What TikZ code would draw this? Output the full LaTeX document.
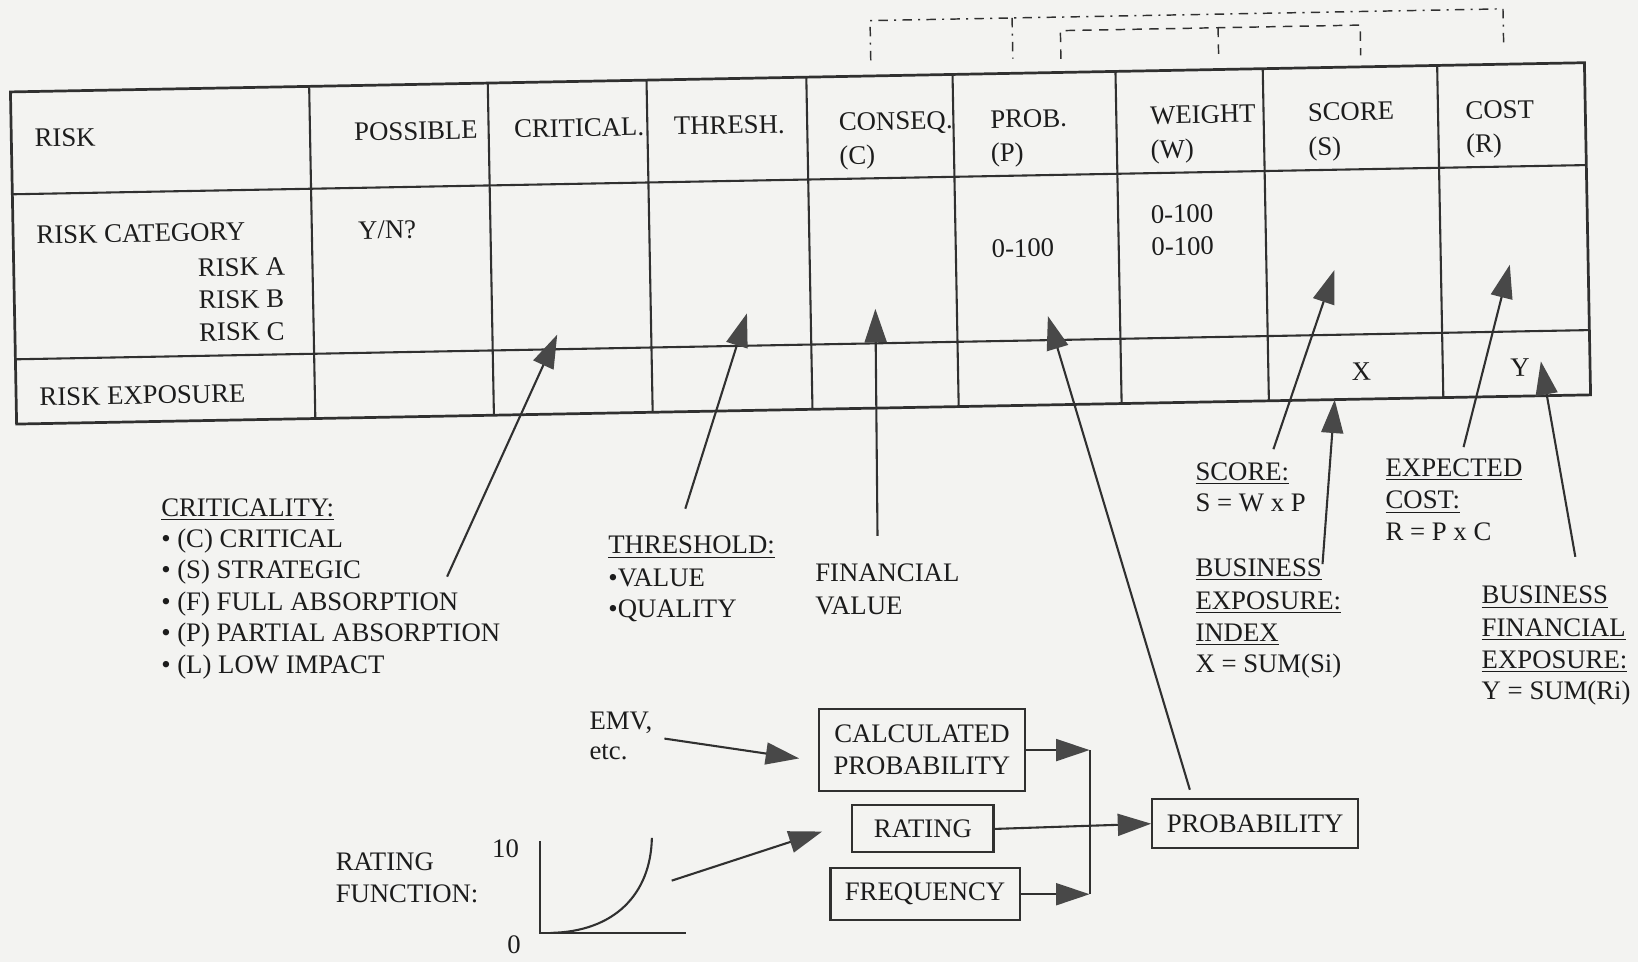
\documentclass[tikz,border=0pt]{standalone}
\usepackage{fontspec}
\setmainfont{Liberation Serif}
\usetikzlibrary{arrows.meta,calc}
\definecolor{paper}{RGB}{243,243,241}
\definecolor{ink}{RGB}{28,28,28}
\definecolor{rule}{RGB}{48,48,48}
\definecolor{head}{RGB}{72,72,72}
\begin{document}
\begin{tikzpicture}[x=0.5pt,y=-0.5pt,
  lbl/.style={anchor=base west, inner sep=0pt, text=ink, font=\fontsize{12.8}{15.3}\selectfont},
  ctr/.style={lbl, anchor=base},
  grid/.style={draw=rule, line width=1pt},
  frame/.style={draw=rule, line width=1.3pt},
  pointer/.style={draw=rule, line width=1pt,
    -{Triangle[length=16pt,width=10.5pt,fill=head,color=head]}},
  boxed/.style={draw=rule, line width=1pt, inner sep=0pt, text=ink, align=center,
    font=\fontsize{12.8}{15.3}\selectfont},
  shortdash/.style={draw=rule, line width=0.7pt, dash pattern=on 4.5pt off 3.5pt},
  dashdot/.style={draw=rule, line width=0.7pt, dash pattern=on 4.5pt off 3pt on 1pt off 3pt}]

\fill[paper] (0,0) rectangle (1568,921);
\useasboundingbox (0,0) rectangle (1568,921);

% ---------------- the risk table (slightly tilted sheet) ----------------
\begin{scope}[shift={(10,88)}, rotate=1.064, transform shape]
  \draw[frame] (0,0) rectangle (1507,318);
  \draw[grid] (0,98) -- (1507,98) (0,256) -- (1507,256);
  \foreach \c in {286,457,609,762,902,1058,1199,1366}
    \draw[grid] (\c,0) -- (\c,318);

  % header row
  \node[lbl] (hRisk) at (22,53) {RISK};
  \node[lbl] (hPoss) at (328,53) {POSSIBLE};
  \node[lbl] (hCrit) at (481,53) {CRITICAL.};
  \node[lbl] (hThr)  at (634,53) {THRESH.};
  \node[lbl] (hConA) at (792,52) {CONSEQ.};
  \node[lbl] (hConB) at (792,84) {(C)};
  \node[lbl] (hProA) at (937,52) {PROB.};
  \node[lbl] (hProB) at (937,84) {(P)};
  \node[lbl] (hWeiA) at (1090,51) {WEIGHT};
  \node[lbl] (hWeiB) at (1090,84) {(W)};
  \node[lbl] (hScoA) at (1241,51) {SCORE};
  \node[lbl] (hScoB) at (1241,84) {(S)};
  \node[lbl] (hCosA) at (1392,52) {COST};
  \node[lbl] (hCosB) at (1392,84) {(R)};

  % body row
  \node[lbl] (rCat) at (22,146) {RISK CATEGORY};
  \node[lbl] (rA) at (176,180) {RISK A};
  \node[lbl] (rB) at (176,211) {RISK B};
  \node[lbl] (rC) at (176,242) {RISK C};
  \node[lbl] (yn) at (330,147) {Y/N?};
  \node[lbl] (pRange) at (936,176) {0-100};
  \node[lbl] (wRangeA) at (1089,146) {0-100};
  \node[lbl] (wRangeB) at (1089,177) {0-100};

  % exposure row
  \node[lbl] (rExp) at (22,301) {RISK EXPOSURE};
  \node[ctr] (xVal) at (1288,300) {X};
  \node[ctr] (yVal) at (1440,299) {Y};

  % arrow targets inside the table
  \coordinate (tCrit)  at (519,242);
  \coordinate (tThr)   at (701,225);
  \coordinate (tCon)   at (824,223);
  \coordinate (tProb)  at (989,233);
  \coordinate (tScore) at (1264,194);
  \coordinate (tX)     at (1262,318);
  \coordinate (tCost)  at (1432,192);
  \coordinate (tY)     at (1460,285);

  % links between columns: R = P x C (dash-dot), S = W x P (dashed)
  \draw[dashdot] (824,-15) -- (824,-53) -- (1430,-53) -- (1430,-15);
  \draw[dashdot] (960,-53) -- (960,-14);
  \draw[shortdash] (1006,-13) -- (1006,-40) -- (1293,-40) -- (1293,-11);
  \draw[shortdash] (1157,-40) -- (1157,-12);
\end{scope}

% ---------------- explanations below the table ----------------
\node[lbl] (critT) at (154,494) {\underline{CRITICALITY:}};
\node[lbl] (critC) at (154,524) {• (C) CRITICAL};
\node[lbl] (critS) at (154,554) {• (S) STRATEGIC};
\node[lbl] (critF) at (154,584) {• (F) FULL ABSORPTION};
\node[lbl] (critP) at (154,614) {• (P) PARTIAL ABSORPTION};
\node[lbl] (critL) at (154,645) {• (L) LOW IMPACT};

\node[lbl] (thrT) at (582,530) {\underline{THRESHOLD:}};
\node[lbl] (thrV) at (582,561) {•VALUE};
\node[lbl] (thrQ) at (582,591) {•QUALITY};

\node[lbl] (finA) at (780,557) {FINANCIAL};
\node[lbl] (finB) at (780,588) {VALUE};

\node[lbl] (scoT) at (1144,460) {\underline{SCORE:}};
\node[lbl] (scoF) at (1144,490) {S = W x P};

\node[lbl] (idxA) at (1144,552) {\underline{BUSINESS}};
\node[lbl] (idxB) at (1144,583) {\underline{EXPOSURE:}};
\node[lbl] (idxC) at (1144,614) {\underline{INDEX}};
\node[lbl] (idxF) at (1144,644) {X = SUM(Si)};

\node[lbl] (expA) at (1326,456) {\underline{EXPECTED}};
\node[lbl] (expB) at (1326,487) {\underline{COST:}};
\node[lbl] (expF) at (1326,517) {R = P x C};

\node[lbl] (bfeA) at (1418,578) {\underline{BUSINESS}};
\node[lbl] (bfeB) at (1418,609) {\underline{FINANCIAL}};
\node[lbl] (bfeC) at (1418,640) {\underline{EXPOSURE:}};
\node[lbl] (bfeF) at (1418,670) {Y = SUM(Ri)};

% ---------------- probability sources ----------------
\node[lbl] (emvA) at (564,698) {EMV,};
\node[lbl] (emvB) at (564,727) {etc.};
\node[boxed, minimum width=98.5pt, minimum height=39pt] (calc) at (882.5,718) {CALCULATED\\PROBABILITY};
\node[boxed, minimum width=67.5pt, minimum height=22.5pt] (rating) at (883.5,793.5) {RATING};
\node[boxed, minimum width=90.5pt, minimum height=25pt] (freq) at (885.5,856) {FREQUENCY};
\node[boxed, minimum width=98.5pt, minimum height=23.5pt] (prob) at (1201.5,788.5) {PROBABILITY};

\node[lbl] (rfA) at (321,833) {RATING};
\node[lbl] (rfB) at (321,864) {FUNCTION:};
\node[ctr] (ten) at (484,821) {10};
\node[ctr] (zero) at (492,913) {0};

% rating function sketch
\coordinate (axTop) at (517,805);
\coordinate (axO) at (517,893);
\coordinate (axEnd) at (657,893);
\draw[grid] (axTop) -- (axO) -- (axEnd);
\draw[grid] (527,893) .. controls (588,892) and (623,856) .. (624,802);

% ---------------- connectors ----------------
\coordinate (emvS) at (636,707);
\coordinate (emvT) at (765,726);
\coordinate (rfS) at (643,843);
\coordinate (rfT) at (787,796);
\coordinate (busX) at (1043,0);
\draw[pointer] (emvS) -- (emvT);
\draw[pointer] (rfS) -- (rfT);
\draw[pointer] (calc.east) -- (calc.east -| busX);
\draw[pointer] (freq.east) -- (freq.east -| busX);
\draw[grid] (calc.east -| busX) -- (freq.east -| busX);
\draw[pointer] (rating.east) -- (prob.west);

\coordinate (sCrit)  at (428,552);
\coordinate (sThr)   at (656,487);
\coordinate (sCon)   at (840,513);
\coordinate (sProb)  at ($(prob.north west)+(37,-8)$);
\coordinate (sScore) at (1219,430);
\coordinate (sIdx)   at (1266,540);
\coordinate (sCost)  at (1401,428);
\coordinate (sFin)   at (1508,533);

\draw[pointer] (sCrit) -- (tCrit);
\draw[pointer] (sThr) -- (tThr);
\draw[pointer] (sCon) -- (tCon);
\draw[pointer] (sProb) -- (tProb);
\draw[pointer] (sScore) -- (tScore);
\draw[pointer] (sIdx) -- (tX);
\draw[pointer] (sCost) -- (tCost);
\draw[pointer] (sFin) -- (tY);
\end{tikzpicture}
\end{document}
